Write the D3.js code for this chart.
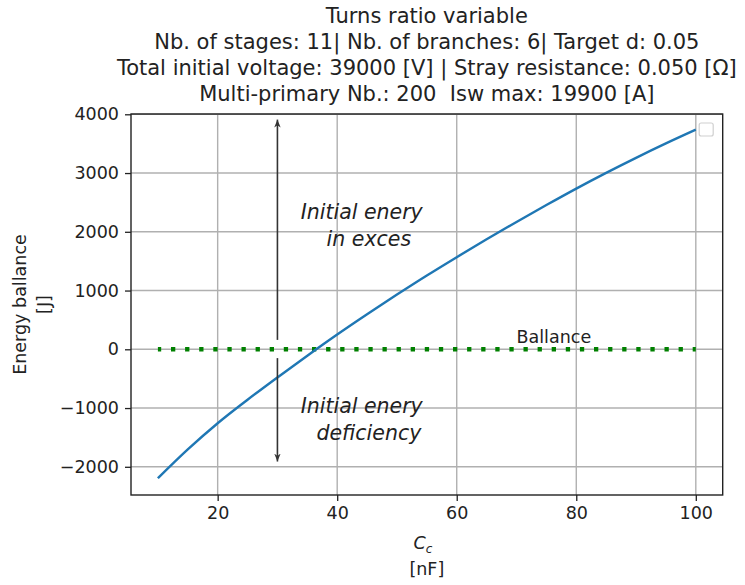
<!DOCTYPE html>
<html>
<head>
<meta charset="utf-8">
<script src="https://cdn.jsdelivr.net/npm/d3@7"></script>
<style>
  body { margin: 0; background: #fff; }
  svg { display: block; font-family: 'DejaVu Sans', sans-serif; }
  svg text { white-space: pre; }
</style>
</head>
<body>
<div id="chart"></div>
<script>
(function () {
    'use strict';

    // capacitance [nF] and energy balance [J]
    const capValues = [10, 15, 20, 25, 30, 35, 40, 45, 50, 55, 60, 65, 70, 75, 80, 85, 90, 95, 100];
    const energyValues = [-2195, -1705, -1259, -859, -479, -109, 251, 596, 931, 1256, 1568,
        1873, 2168, 2455, 2735, 3003, 3259, 3504, 3738];
    const balanceX = [10, 100];
    const balanceY = [0, 0];

    const xTicks = [20, 40, 60, 80, 100];
    const yTicks = [-2000, -1000, 0, 1000, 2000, 3000, 4000];

    const titleLines = [
        'Turns ratio variable',
        'Nb. of stages: 11| Nb. of branches: 6| Target d: 0.05',
        'Total initial voltage: 39000 [V] | Stray resistance: 0.050 [Ω]',
        'Multi-primary Nb.: 200  Isw max: 19900 [A]'
    ];

    // arrows: [x, yFrom, yTo]
    const arrows = [
        [30, 160, 3910],
        [30, -150, -1910]
    ];
    // annotation text lines: [text, x centre, y baseline]
    const notes = [
        ['Initial enery', 44.1, 2215],
        ['in exces', 45.3, 1755],
        ['Initial enery', 44.1, -1085],
        ['deficiency', 45.3, -1545]
    ];

    const W = 745, H = 585;
    const margin = { top: 114, right: 22.3, bottom: 90, left: 131 };
    const width = W - margin.left - margin.right;
    const height = H - margin.top - margin.bottom;

    const svg = d3.select('#chart').append('svg').attr('width', W).attr('height', H);

    const x = d3.scaleLinear().domain([5.5, 104.5]).range([0, width]);
    const y = d3.scaleLinear().domain([-2480, 4005]).range([height, 0]);

    const g = svg.append('g').attr('transform', 'translate(' + margin.left + ',' + margin.top + ')');

    // grid
    g.append('g').selectAll('line').data(xTicks).enter().append('line')
        .attr('x1', d => x(d)).attr('x2', d => x(d))
        .attr('y1', 0).attr('y2', height)
        .attr('stroke', '#b0b0b0').attr('stroke-width', 1.4);
    g.append('g').selectAll('line').data(yTicks).enter().append('line')
        .attr('x1', 0).attr('x2', width)
        .attr('y1', d => y(d)).attr('y2', d => y(d))
        .attr('stroke', '#b0b0b0').attr('stroke-width', 1.4);

    // balance line (green dotted)
    const balance = balanceX.map((d, i) => [d, balanceY[i]]);
    g.append('path').datum(balance)
        .attr('d', d3.line().x(d => x(d[0])).y(d => y(d[1])))
        .attr('fill', 'none').attr('stroke', '#008000')
        .attr('stroke-width', 4.5).attr('stroke-dasharray', '4.3,9.8')
        .attr('stroke-dashoffset', 1);

    g.append('text').attr('x', x(70)).attr('y', y(100))
        .attr('font-size', 17.5).attr('fill', '#222').text('Ballance');

    // energy curve
    const curve = capValues.map((d, i) => [d, energyValues[i]]);
    g.append('path').datum(curve)
        .attr('d', d3.line().curve(d3.curveMonotoneX).x(d => x(d[0])).y(d => y(d[1])))
        .attr('fill', 'none').attr('stroke', '#1f77b4').attr('stroke-width', 2.4);

    // arrows
    svg.append('defs').append('marker')
        .attr('id', 'head').attr('viewBox', '0 0 10 10')
        .attr('refX', 10).attr('refY', 5)
        .attr('markerWidth', 8).attr('markerHeight', 8)
        .attr('markerUnits', 'userSpaceOnUse')
        .attr('orient', 'auto')
        .append('path').attr('d', 'M0,1 L10,5 L0,9 L3,5 Z').attr('fill', '#333');

    g.append('g').selectAll('line').data(arrows).enter().append('line')
        .attr('x1', d => x(d[0])).attr('x2', d => x(d[0]))
        .attr('y1', d => y(d[1])).attr('y2', d => y(d[2]))
        .attr('stroke', '#333').attr('stroke-width', 1.6)
        .attr('marker-end', 'url(#head)');

    g.append('g').selectAll('text').data(notes).enter().append('text')
        .attr('x', d => x(d[1])).attr('y', d => y(d[2]))
        .attr('text-anchor', 'middle').attr('font-size', 20.5)
        .attr('font-style', 'italic').attr('fill', '#222')
        .text(d => d[0]);

    // axes
    const xAxis = d3.axisBottom(x).tickValues(xTicks).tickSize(6).tickPadding(6);
    const yAxis = d3.axisLeft(y).tickValues(yTicks).tickSize(6).tickPadding(6)
        .tickFormat(d => d < 0 ? '\u2212' + Math.abs(d) : d);

    g.append('g').attr('transform', 'translate(0,' + height + ')').call(xAxis)
        .call(a => a.select('.domain').remove())
        .selectAll('text').attr('font-size', 17.5).attr('fill', '#222')
        .attr('font-family', 'DejaVu Sans');
    g.append('g').call(yAxis)
        .call(a => a.select('.domain').remove())
        .selectAll('text').attr('font-size', 17.5).attr('fill', '#222')
        .attr('font-family', 'DejaVu Sans');
    g.selectAll('.tick line').attr('stroke', '#222').attr('stroke-width', 1.3);

    g.append('rect').attr('width', width).attr('height', height)
        .attr('fill', 'none').attr('stroke', '#222').attr('stroke-width', 1.4);

    // empty legend box
    g.append('rect').attr('x', width - 23.5).attr('y', 9)
        .attr('width', 14).attr('height', 13).attr('rx', 2)
        .attr('fill', '#fff').attr('stroke', '#d0d0d0').attr('stroke-width', 1.2);

    // title
    svg.append('g').selectAll('text').data(titleLines).enter().append('text')
        .attr('x', margin.left + width / 2).attr('y', (d, i) => 23 + i * 26)
        .attr('text-anchor', 'middle').attr('font-size', 21).attr('fill', '#222')
        .text(d => d);

    // x label
    const xl = svg.append('text').attr('x', margin.left + width / 2 - 4).attr('y', 549)
        .attr('text-anchor', 'middle').attr('font-size', 17.5).attr('fill', '#222');
    xl.append('tspan').attr('font-style', 'italic').text('C');
    xl.append('tspan').attr('font-style', 'italic').attr('font-size', 12).attr('dy', 4).text('c');
    svg.append('text').attr('x', margin.left + width / 2).attr('y', 575)
        .attr('text-anchor', 'middle').attr('font-size', 17.5).attr('fill', '#222')
        .text('[nF]');

    // y label
    const yl = svg.append('g').attr('transform', 'translate(0,' + (margin.top + height / 2) + ') rotate(-90)');
    yl.append('text').attr('x', 0).attr('y', 26).attr('text-anchor', 'middle')
        .attr('font-size', 17.5).attr('fill', '#222').text('Energy ballance');
    yl.append('text').attr('x', 0).attr('y', 50).attr('text-anchor', 'middle')
        .attr('font-size', 17.5).attr('fill', '#222').text('[J]');
}());
</script>
</body>
</html>
